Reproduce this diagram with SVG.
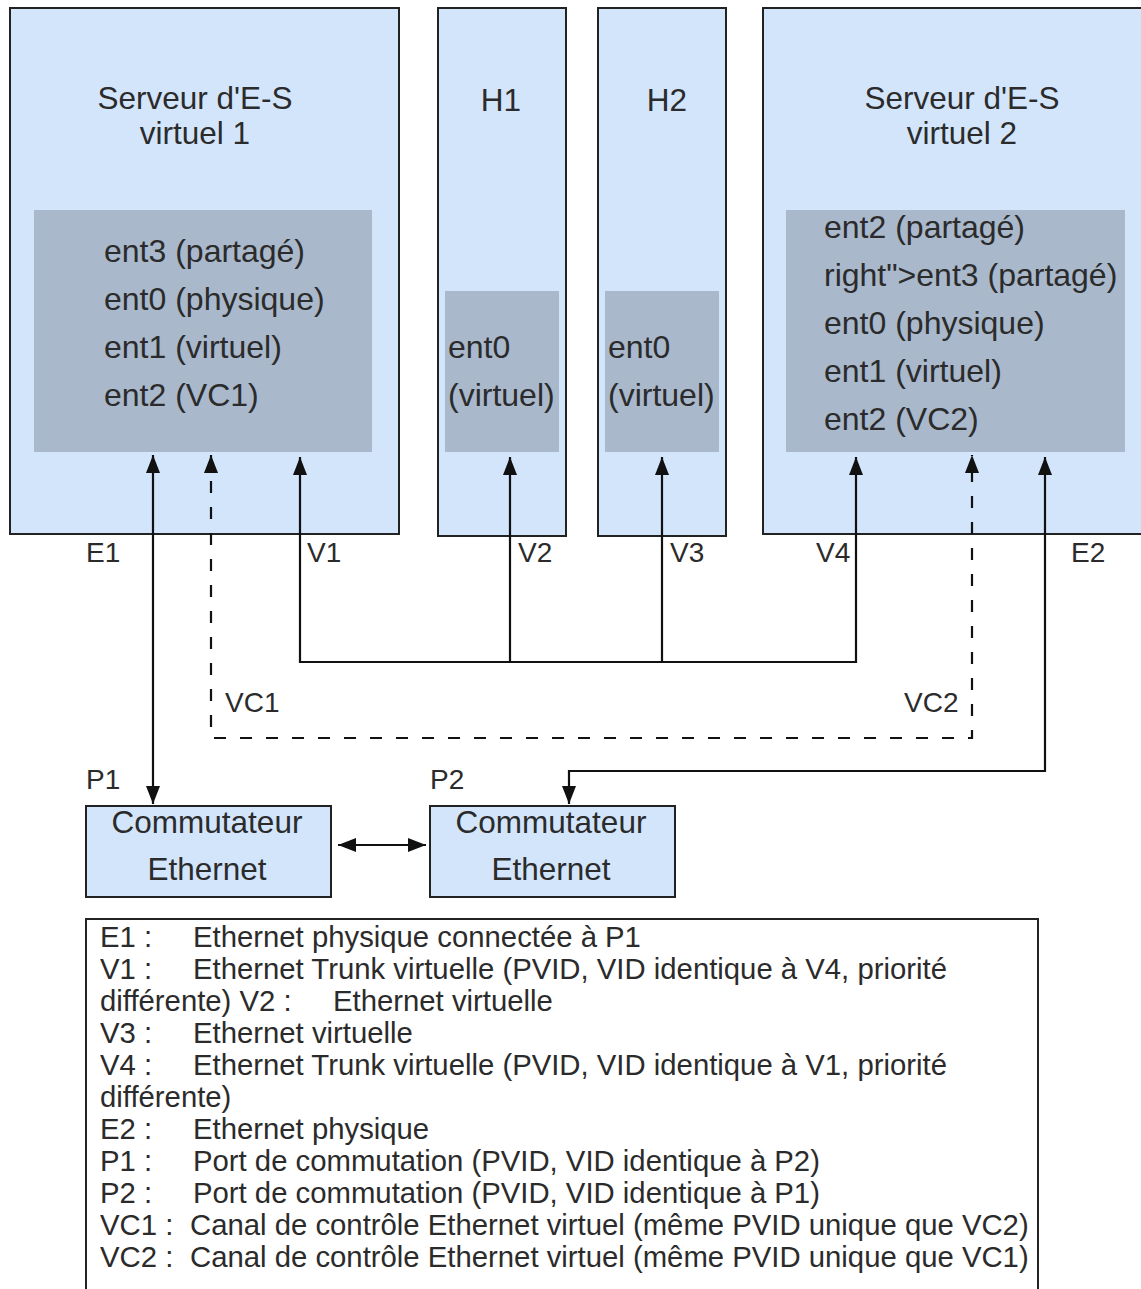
<svg xmlns="http://www.w3.org/2000/svg" width="1141" height="1289" viewBox="0 0 1141 1289">
<style>
.box{fill:#d3e5fb;stroke:#222;stroke-width:2}
.inner{fill:#a9b8cb}
.t{font-family:"Liberation Sans",Arial,sans-serif;fill:#2b2b2b}
.big{font-size:32px}
.ttl{font-size:31.5px}
.mid{font-size:31.5px}
.lbl{font-size:28px}
.leg{font-size:29.3px}
.c{text-anchor:middle}
.ln{fill:none;stroke:#111;stroke-width:2.2}
.dash{stroke-dasharray:12 14}
</style>
<defs>
<marker id="ah" markerUnits="userSpaceOnUse" markerWidth="18" markerHeight="14" refX="18" refY="7" orient="auto-start-reverse">
<path d="M0,0 L18,7 L0,14 z" fill="#111"/>
</marker>
</defs>
<rect width="1141" height="1289" fill="#fff"/>

<g id="vios1">
<rect class="box" x="10" y="8" width="389" height="526"/>
<rect class="inner" x="34" y="210" width="338" height="242"/>
<text class="t ttl c" x="195" y="109">Serveur d'E-S</text>
<text class="t ttl c" x="195" y="144">virtuel 1</text>
<text class="t big" x="104" y="262">ent3 (partagé)</text>
<text class="t big" x="104" y="310">ent0 (physique)</text>
<text class="t big" x="104" y="358">ent1 (virtuel)</text>
<text class="t big" x="104" y="406">ent2 (VC1)</text>
</g>

<g id="h1">
<rect class="box" x="438" y="8" width="128" height="528"/>
<rect class="inner" x="445" y="291" width="114" height="161"/>
<text class="t ttl c" x="501" y="111">H1</text>
<text class="t big" x="448" y="358">ent0</text>
<text class="t big" x="448" y="406">(virtuel)</text>
</g>

<g id="h2">
<rect class="box" x="598" y="8" width="128" height="528"/>
<rect class="inner" x="605" y="291" width="114" height="161"/>
<text class="t ttl c" x="667" y="111">H2</text>
<text class="t big" x="608" y="358">ent0</text>
<text class="t big" x="608" y="406">(virtuel)</text>
</g>

<g id="vios2">
<rect class="box" x="763" y="8" width="400" height="526"/>
<rect class="inner" x="786" y="210" width="339" height="242"/>
<text class="t ttl c" x="962" y="109">Serveur d'E-S</text>
<text class="t ttl c" x="962" y="144">virtuel 2</text>
<text class="t big" x="824" y="238">ent2 (partagé)</text>
<text class="t big" x="824" y="286">right"&gt;ent3 (partagé)</text>
<text class="t big" x="824" y="334">ent0 (physique)</text>
<text class="t big" x="824" y="382">ent1 (virtuel)</text>
<text class="t big" x="824" y="430">ent2 (VC2)</text>
</g>

<g id="switch1">
<rect class="box" x="86" y="806" width="245" height="91"/>
<text class="t mid c" x="207" y="833">Commutateur</text>
<text class="t mid c" x="207" y="880">Ethernet</text>
</g>

<g id="switch2">
<rect class="box" x="430" y="806" width="245" height="91"/>
<text class="t mid c" x="551" y="833">Commutateur</text>
<text class="t mid c" x="551" y="880">Ethernet</text>
</g>

<g id="connectors">
<path class="ln" d="M153,455 V804" marker-start="url(#ah)" marker-end="url(#ah)"/>
<path class="ln dash" d="M211,455 V738 H972 V455" marker-start="url(#ah)" marker-end="url(#ah)"/>
<path class="ln" d="M300,457 V662 H856 V457" marker-start="url(#ah)" marker-end="url(#ah)"/>
<path class="ln" d="M510,662 V457" marker-end="url(#ah)"/>
<path class="ln" d="M662,662 V457" marker-end="url(#ah)"/>
<path class="ln" d="M1045,457 V771 H569 V804" marker-start="url(#ah)" marker-end="url(#ah)"/>
<path class="ln" d="M338,845 H426" marker-start="url(#ah)" marker-end="url(#ah)"/>
</g>

<g id="labels">
<text class="t lbl" x="86" y="562">E1</text>
<text class="t lbl" x="307" y="562">V1</text>
<text class="t lbl" x="518" y="562">V2</text>
<text class="t lbl" x="670" y="562">V3</text>
<text class="t lbl" x="816" y="562">V4</text>
<text class="t lbl" x="1071" y="562">E2</text>
<text class="t lbl" x="225" y="712">VC1</text>
<text class="t lbl" x="904" y="712">VC2</text>
<text class="t lbl" x="86" y="789">P1</text>
<text class="t lbl" x="430" y="789">P2</text>
</g>

<g id="legend">
<rect x="86" y="919" width="952" height="400" fill="#fff" stroke="#222" stroke-width="2"/>
<text class="t leg" x="100" y="947">E1 :</text><text class="t leg" x="193" y="947">Ethernet physique connectée à P1</text>
<text class="t leg" x="100" y="979">V1 :</text><text class="t leg" x="193" y="979">Ethernet Trunk virtuelle (PVID, VID identique à V4, priorité</text>
<text class="t leg" x="100" y="1011">différente) V2 :</text><text class="t leg" x="333" y="1011">Ethernet virtuelle</text>
<text class="t leg" x="100" y="1043">V3 :</text><text class="t leg" x="193" y="1043">Ethernet virtuelle</text>
<text class="t leg" x="100" y="1075">V4 :</text><text class="t leg" x="193" y="1075">Ethernet Trunk virtuelle (PVID, VID identique à V1, priorité</text>
<text class="t leg" x="100" y="1107">différente)</text>
<text class="t leg" x="100" y="1139">E2 :</text><text class="t leg" x="193" y="1139">Ethernet physique</text>
<text class="t leg" x="100" y="1171">P1 :</text><text class="t leg" x="193" y="1171">Port de commutation (PVID, VID identique à P2)</text>
<text class="t leg" x="100" y="1203">P2 :</text><text class="t leg" x="193" y="1203">Port de commutation (PVID, VID identique à P1)</text>
<text class="t leg" x="100" y="1235">VC1 :</text><text class="t leg" x="190" y="1235">Canal de contrôle Ethernet virtuel (même PVID unique que VC2)</text>
<text class="t leg" x="100" y="1267">VC2 :</text><text class="t leg" x="190" y="1267">Canal de contrôle Ethernet virtuel (même PVID unique que VC1)</text>
</g>
</svg>
